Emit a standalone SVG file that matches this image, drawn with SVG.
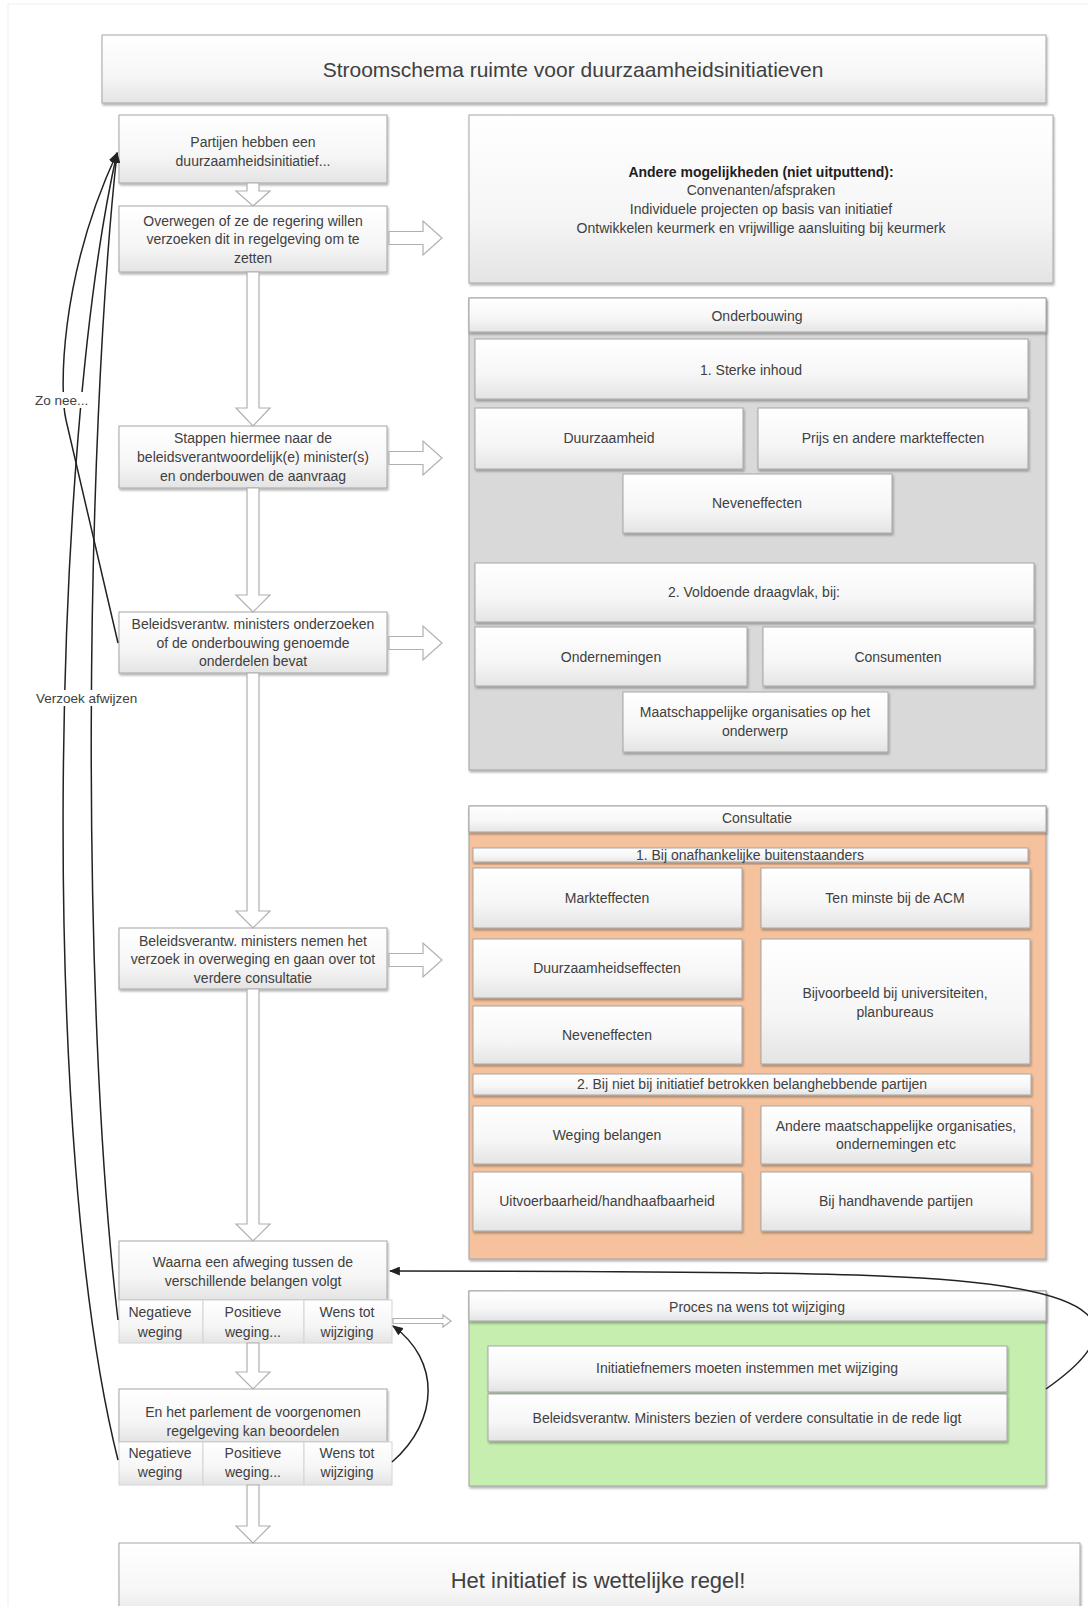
<svg xmlns="http://www.w3.org/2000/svg" width="1088" height="1606" viewBox="0 0 1088 1606">
<defs>
<linearGradient id="g" x1="0" y1="0" x2="0" y2="1">
<stop offset="0" stop-color="#ffffff"/>
<stop offset="0.6" stop-color="#f6f6f6"/>
<stop offset="1" stop-color="#e4e4e4"/>
</linearGradient>
<filter id="sh" x="-5%" y="-5%" width="110%" height="120%">
<feDropShadow dx="1" dy="2" stdDeviation="1" flood-color="#000" flood-opacity="0.3"/>
</filter>
<marker id="ah" viewBox="0 0 10 8" refX="9" refY="4" markerWidth="11" markerHeight="9" markerUnits="userSpaceOnUse" orient="auto">
<path d="M0,0 L10,4 L0,8 z" fill="#222"/>
</marker>
<style>
.box{fill:url(#g);stroke:#a6a6a6;stroke-width:1;filter:url(#sh)}
.cell{fill:url(#g);stroke:#d4d4d4;stroke-width:1}
.grp{stroke:#a0a0a0;stroke-width:1;filter:url(#sh)}
.t{font-family:"Liberation Sans",Arial,sans-serif;font-size:14px;fill:#404040;text-anchor:middle;dominant-baseline:central}
.b{font-weight:bold;fill:#1e1e1e}
.lbl{font-family:"Liberation Sans",Arial,sans-serif;font-size:13.5px;fill:#404040;dominant-baseline:central}
.ha{fill:#fff;stroke:#b0b0b0;stroke-width:1.2}
.cn{fill:none;stroke:#222;stroke-width:1.5;marker-end:url(#ah)}
</style>
</defs>
<rect x="0" y="0" width="1088" height="1606" fill="#fff"/>
<rect x="8" y="4" width="1090" height="1610" fill="none" stroke="#f0f0f0"/>

<g id="title">
<rect class="box" x="102" y="35" width="944" height="68"/>
<text class="t" x="573" y="69" style="font-size:21px">Stroomschema ruimte voor duurzaamheidsinitiatieven</text>
</g>

<g id="n1">
<rect class="box" x="119" y="115" width="268" height="68"/>
<text class="t" x="253" y="142">Partijen hebben een</text>
<text class="t" x="253" y="161">duurzaamheidsinitiatief...</text>
</g>
<g id="n2">
<rect class="box" x="119" y="206" width="268" height="66"/>
<text class="t" x="253" y="221">Overwegen of ze de regering willen</text>
<text class="t" x="253" y="239">verzoeken dit in regelgeving om te</text>
<text class="t" x="253" y="258">zetten</text>
</g>
<g id="n3">
<rect class="box" x="119" y="426" width="268" height="62"/>
<text class="t" x="253" y="438">Stappen hiermee naar de</text>
<text class="t" x="253" y="457">beleidsverantwoordelijk(e) minister(s)</text>
<text class="t" x="253" y="476">en onderbouwen de aanvraag</text>
</g>
<g id="n4">
<rect class="box" x="119" y="612" width="268" height="61"/>
<text class="t" x="253" y="624">Beleidsverantw. ministers onderzoeken</text>
<text class="t" x="253" y="643">of de onderbouwing genoemde</text>
<text class="t" x="253" y="661">onderdelen bevat</text>
</g>
<g id="n5">
<rect class="box" x="119" y="928" width="268" height="61"/>
<text class="t" x="253" y="941">Beleidsverantw. ministers nemen het</text>
<text class="t" x="253" y="959">verzoek in overweging en gaan over tot</text>
<text class="t" x="253" y="978">verdere consultatie</text>
</g>
<g id="n6">
<rect class="box" x="119" y="1241" width="268" height="59"/>
<text class="t" x="253" y="1262">Waarna een afweging tussen de</text>
<text class="t" x="253" y="1281">verschillende belangen volgt</text>
<rect class="cell" x="119" y="1300" width="84" height="43"/>
<rect class="cell" x="203" y="1300" width="101" height="43"/>
<rect class="cell" x="304" y="1300" width="88" height="43"/>
<text class="t" x="160" y="1312">Negatieve</text>
<text class="t" x="160" y="1332">weging</text>
<text class="t" x="253" y="1312">Positieve</text>
<text class="t" x="253" y="1332">weging...</text>
<text class="t" x="347" y="1312">Wens tot</text>
<text class="t" x="347" y="1332">wijziging</text>
</g>
<g id="n7">
<rect class="box" x="119" y="1389" width="268" height="53"/>
<text class="t" x="253" y="1412">En het parlement de voorgenomen</text>
<text class="t" x="253" y="1431">regelgeving kan beoordelen</text>
<rect class="cell" x="119" y="1442" width="84" height="43"/>
<rect class="cell" x="203" y="1442" width="101" height="43"/>
<rect class="cell" x="304" y="1442" width="88" height="43"/>
<text class="t" x="160" y="1453">Negatieve</text>
<text class="t" x="160" y="1472">weging</text>
<text class="t" x="253" y="1453">Positieve</text>
<text class="t" x="253" y="1472">weging...</text>
<text class="t" x="347" y="1453">Wens tot</text>
<text class="t" x="347" y="1472">wijziging</text>
</g>
<g id="final">
<rect class="box" x="119" y="1543" width="961" height="80"/>
<text class="t" x="598" y="1580" style="font-size:22px">Het initiatief is wettelijke regel!</text>
</g>

<g id="andere">
<rect class="box" x="469" y="115" width="584" height="168"/>
<text class="t b" x="761" y="172">Andere mogelijkheden (niet uitputtend):</text>
<text class="t" x="761" y="190">Convenanten/afspraken</text>
<text class="t" x="761" y="209">Individuele projecten op basis van initiatief</text>
<text class="t" x="761" y="228">Ontwikkelen keurmerk en vrijwillige aansluiting bij keurmerk</text>
</g>

<g id="onderbouwing">
<rect class="grp" x="469" y="298" width="577" height="472" fill="#d9d9d9"/>
<rect class="box" x="469" y="298" width="577" height="34"/>
<text class="t" x="757" y="316">Onderbouwing</text>
<g id="o-sterke"><rect class="box" x="475" y="339" width="553" height="60"/><text class="t" x="751" y="370">1. Sterke inhoud</text></g>
<g id="o-duurzaamheid"><rect class="box" x="475" y="408" width="268" height="61"/><text class="t" x="609" y="438">Duurzaamheid</text></g>
<g id="o-prijs"><rect class="box" x="758" y="408" width="270" height="61"/><text class="t" x="893" y="438">Prijs en andere markteffecten</text></g>
<g id="o-neven"><rect class="box" x="623" y="474" width="269" height="59"/><text class="t" x="757" y="503">Neveneffecten</text></g>
<g id="o-draagvlak"><rect class="box" x="475" y="563" width="559" height="59"/><text class="t" x="754" y="592">2. Voldoende draagvlak, bij:</text></g>
<g id="o-ondernemingen"><rect class="box" x="475" y="627" width="272" height="59"/><text class="t" x="611" y="657">Ondernemingen</text></g>
<g id="o-consumenten"><rect class="box" x="763" y="627" width="271" height="59"/><text class="t" x="898" y="657">Consumenten</text></g>
<g id="o-maatschappelijk"><rect class="box" x="623" y="692" width="265" height="60"/><text class="t" x="755" y="712">Maatschappelijke organisaties op het</text><text class="t" x="755" y="731">onderwerp</text></g>
</g>

<g id="consultatie">
<rect class="grp" x="469" y="806" width="577" height="453" fill="#f5c29d"/>
<rect class="box" x="469" y="806" width="577" height="26"/>
<text class="t" x="757" y="818">Consultatie</text>
<g id="c-h1"><rect class="box" x="473" y="848" width="555" height="14"/><text class="t" x="750" y="855">1. Bij onafhankelijke buitenstaanders</text></g>
<g id="c-markt"><rect class="box" x="473" y="868" width="269" height="60"/><text class="t" x="607" y="898">Markteffecten</text></g>
<g id="c-acm"><rect class="box" x="761" y="868" width="269" height="60"/><text class="t" x="895" y="898">Ten minste bij de ACM</text></g>
<g id="c-duurz"><rect class="box" x="473" y="939" width="269" height="59"/><text class="t" x="607" y="968">Duurzaamheidseffecten</text></g>
<g id="c-neven"><rect class="box" x="473" y="1006" width="269" height="58"/><text class="t" x="607" y="1035">Neveneffecten</text></g>
<g id="c-univ"><rect class="box" x="761" y="939" width="269" height="125"/><text class="t" x="895" y="993">Bijvoorbeeld bij universiteiten,</text><text class="t" x="895" y="1012">planbureaus</text></g>
<g id="c-h2"><rect class="box" x="473" y="1074" width="558" height="21"/><text class="t" x="752" y="1084">2. Bij niet bij initiatief betrokken belanghebbende partijen</text></g>
<g id="c-weging"><rect class="box" x="473" y="1106" width="269" height="58"/><text class="t" x="607" y="1135">Weging belangen</text></g>
<g id="c-andere"><rect class="box" x="761" y="1106" width="270" height="58"/><text class="t" x="896" y="1126">Andere maatschappelijke organisaties,</text><text class="t" x="896" y="1144">ondernemingen etc</text></g>
<g id="c-uitv"><rect class="box" x="473" y="1172" width="269" height="59"/><text class="t" x="607" y="1201">Uitvoerbaarheid/handhaafbaarheid</text></g>
<g id="c-handh"><rect class="box" x="761" y="1172" width="270" height="59"/><text class="t" x="896" y="1201">Bij handhavende partijen</text></g>
</g>

<g id="proces">
<rect class="grp" x="469" y="1291" width="577" height="195" fill="#c5eeaf"/>
<rect class="box" x="469" y="1291" width="577" height="30"/>
<text class="t" x="757" y="1307">Proces na wens tot wijziging</text>
<g id="p-instemmen"><rect class="box" x="488" y="1346" width="519" height="46"/><text class="t" x="747" y="1368">Initiatiefnemers moeten instemmen met wijziging</text></g>
<g id="p-bezien"><rect class="box" x="488" y="1394" width="519" height="47"/><text class="t" x="747" y="1418">Beleidsverantw. Ministers bezien of verdere consultatie in de rede ligt</text></g>
</g>

<g id="connectors">
<path class="ha" d="M247,183 H259 V191 H270 L253,206 L236,191 H247 Z"/>
<path class="ha" d="M247,272 H259 V408 H270 L253,426 L236,408 H247 Z"/>
<path class="ha" d="M247,488 H259 V595 H270 L253,612 L236,595 H247 Z"/>
<path class="ha" d="M247,673 H259 V911 H270 L253,928 L236,911 H247 Z"/>
<path class="ha" d="M247,989 H259 V1224 H270 L253,1241 L236,1224 H247 Z"/>
<path class="ha" d="M247,1343 H259 V1372 H270 L253,1389 L236,1372 H247 Z"/>
<path class="ha" d="M247,1485 H259 V1526 H270 L253,1543 L236,1526 H247 Z"/>
<path class="ha" d="M389,231.5 H423 V221 L442,238 L423,255 V244.5 H389 Z"/>
<path class="ha" d="M389,451.5 H423 V441 L442,458 L423,475 V464.5 H389 Z"/>
<path class="ha" d="M389,636.5 H423 V626 L442,643 L423,660 V649.5 H389 Z"/>
<path class="ha" d="M389,953.5 H423 V943 L442,960 L423,977 V966.5 H389 Z"/>
<path class="ha" d="M393,1318.5 H443 V1315 L451,1321 L443,1327 V1323.5 H393 Z"/>
<path class="cn" d="M118,643 L66,420 C60,395 58,280 117,153"/>
<path class="cn" d="M118,1320 C80,1000 85,450 117,153"/>
<path class="cn" d="M118,1460 C40,1150 50,450 117,153"/>
<path class="cn" d="M1046,1389 C1130,1330 1125,1285 880,1276 C780,1272 550,1271 390,1271"/>
<path class="cn" d="M392,1462 C440,1420 440,1360 393,1326"/>
<rect x="33" y="392" width="55" height="16" fill="#fff"/>
<text class="lbl" x="35" y="400">Zo nee...</text>
<rect x="34" y="690" width="112" height="16" fill="#fff"/>
<text class="lbl" x="36" y="698">Verzoek afwijzen</text>
</g>
</svg>
